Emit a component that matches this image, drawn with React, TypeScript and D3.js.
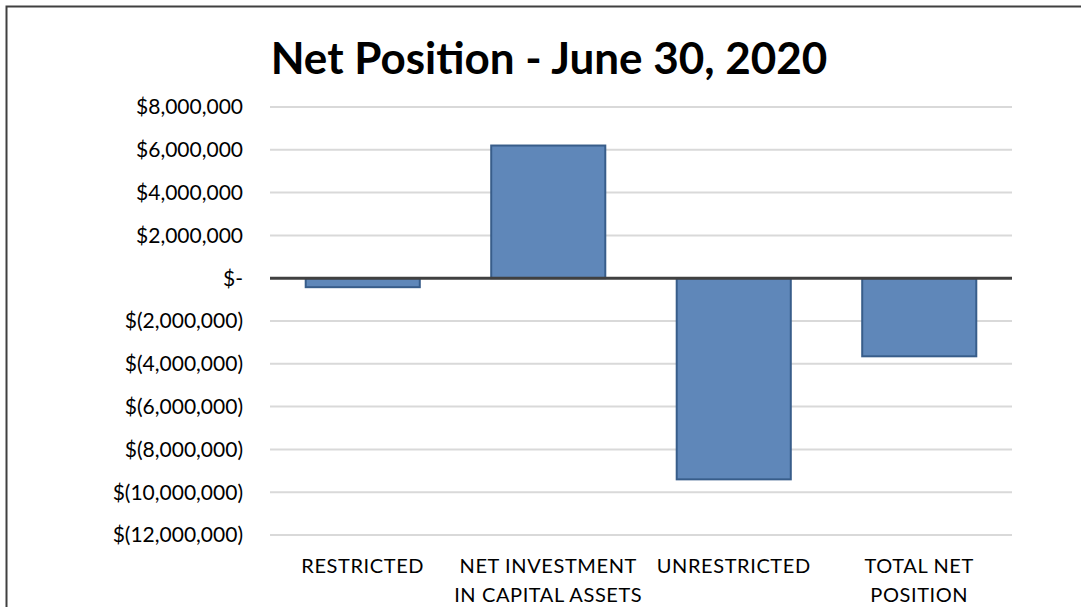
import React from "react";
import * as d3 from "d3";

const categories = ["RESTRICTED", "NET INVESTMENT IN CAPITAL ASSETS", "UNRESTRICTED", "TOTAL NET POSITION"];
const categoryLines = [["RESTRICTED"], ["NET INVESTMENT", "IN CAPITAL ASSETS"], ["UNRESTRICTED"], ["TOTAL NET", "POSITION"]];
const values = [-420000, 6200000, -9400000, -3650000];
const tickValues = [8000000, 6000000, 4000000, 2000000, 0, -2000000, -4000000, -6000000, -8000000, -10000000, -12000000];
const title = "Net Position - June 30, 2020";

const W = 1081;
const H = 607;
const font = "Lato, 'Open Sans', sans-serif";

function fmt(v: number): string {
  if (v === 0) return "$-";
  const s = d3.format(",")(Math.abs(v));
  return v < 0 ? `$(${s})` : `$${s}`;
}

export default function App() {
  const x = d3.scaleBand<string>().domain(categories).range([270, 1012]).paddingInner(0.385).paddingOuter(0.1925);
  const y = d3.scaleLinear().domain([-12000000, 8000000]).range([535, 107]);

  return (
    <svg width={W} height={H} style={{ position: "absolute", left: 0, top: 0, background: "#fff" }}>
      <rect x={0} y={0} width={W} height={H} fill="#fff" />
      <path d={`M6.5,${H} L6.5,6.5 L${W},6.5`} fill="none" stroke="#404040" strokeWidth={2} />
      <text x={549} y={74} textAnchor="middle" fontFamily={font} fontWeight="bold" fontSize={44} fill="#000">
        {title}
      </text>
      {tickValues.map((t) => (
        <g key={t}>
          {t !== 0 && (
            <line x1={270} x2={1012} y1={y(t)} y2={y(t)} stroke="#d9d9d9" strokeWidth={2} />
          )}
          <text x={243} y={y(t)} dy="0.35em" textAnchor="end" fontFamily={font} fontSize={21} fill="#000">
            {fmt(t)}
          </text>
        </g>
      ))}
      {categories.map((c, i) => {
        const v = values[i];
        const y0 = y(0);
        const y1 = y(v);
        return (
          <rect
            key={c}
            x={x(c)!}
            y={Math.min(y0, y1)}
            width={x.bandwidth()}
            height={Math.abs(y1 - y0)}
            fill="#5f87b9"
            stroke="#385d8a"
            strokeWidth={2}
          />
        );
      })}
      <line x1={270} x2={1012} y1={y(0)} y2={y(0)} stroke="#404040" strokeWidth={3} />
      {categories.map((c, i) => (
        <text key={c} x={x(c)! + x.bandwidth() / 2} textAnchor="middle" fontFamily={font} fontSize={20} letterSpacing={0.6} fill="#000">
          {categoryLines[i].map((l, j) => (
            <tspan key={j} x={x(c)! + x.bandwidth() / 2} y={573 + j * 29}>
              {l}
            </tspan>
          ))}
        </text>
      ))}
    </svg>
  );
}
